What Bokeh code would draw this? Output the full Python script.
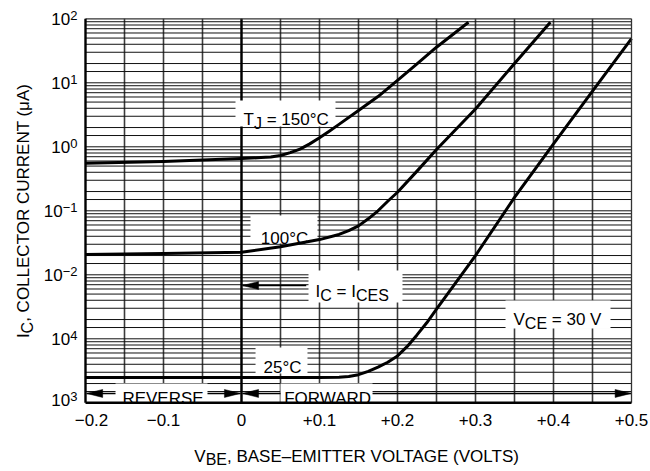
import math
from bokeh.plotting import figure
from bokeh.models import Range1d, Label, LabelSet, ColumnDataSource
from bokeh.core.properties import value
from bokeh.embed import file_html
from bokeh.resources import INLINE

# ---------------- data ----------------
vbe_150 = [-0.2, -0.1, 0.0, 0.025, 0.0375, 0.05, 0.0625, 0.075, 0.0875, 0.1, 0.1125, 0.125,
           0.15, 0.175, 0.2, 0.225, 0.25, 0.291]
ic_150 = [0.555, 0.59, 0.656, 0.68, 0.695, 0.73, 0.81, 0.92, 1.11, 1.38, 1.75, 2.24,
          3.69, 6.1, 10.9, 19.8, 36.0, 88.5]

vbe_100 = [-0.2, -0.1, 0.0, 0.05, 0.1, 0.125, 0.1375, 0.15, 0.1625, 0.175, 0.1875, 0.2,
           0.225, 0.25, 0.3, 0.35, 0.396]
ic_100 = [0.0207, 0.0215, 0.0225, 0.0275, 0.0355, 0.0427, 0.049, 0.0582, 0.075, 0.10, 0.141, 0.195,
          0.417, 0.91, 3.9, 20.0, 88.5]

vbe_25 = [-0.2, -0.1, 0.0, 0.1, 0.125, 0.1375, 0.15, 0.1625, 0.175, 0.1875, 0.2, 0.2125, 0.225,
          0.2375, 0.25, 0.275, 0.3, 0.35, 0.4, 0.45, 0.5]
ic_25 = [2.48e-4, 2.48e-4, 2.48e-4, 2.48e-4, 2.5e-4, 2.57e-4, 2.75e-4, 3.09e-4, 3.6e-4, 4.3e-4,
         5.4e-4, 7.6e-4, 1.15e-3, 1.78e-3, 2.9e-3, 7.6e-3, 0.02, 0.162, 1.11, 7.4, 49.0]

x_ticks = [-0.2, -0.1, 0.0, 0.1, 0.2, 0.3, 0.4, 0.5]
x_tick_labels = ["\u22120.2", "\u22120.1", "0", "+0.1", "+0.2", "+0.3", "+0.4", "+0.5"]
y_ticks = [1e2, 1e1, 1e0, 1e-1, 1e-2, 1e-3, 1e-4]
y_tick_bases = ["10", "10", "10", "10", "10", "10", "10"]
y_tick_exps = ["2", "1", "0", "\u22121", "\u22122", "4", "3"]

# ---------------- styling / geometry ----------------
FONT = "Liberation Sans"
FS = 17
SUB = 16
EXP = 13
X0, X1 = -0.2, 0.5
Y0, Y1 = 1e-4, 1e2
W, H = 650, 471
ML, MR, MT, MB = 85.0, 19.0, 18.3, 68.7      # pixel margins around the data box
FW, FH = W - ML - MR, H - MT - MB
px_x = (X1 - X0) / FW
px_ly = (math.log10(Y1) - math.log10(Y0)) / FH

# small per-label nudges (pixels), as in the reference artwork
x_tick_nudge = [6, 0, 0, 0, 0, 0, 0, 0]
y_tick_nudge = [0, 0, 0, 0, 0, 0, 3.4]

AW = {' ': 278, '(': 333, ')': 333, '+': 584, ',': 278, '-': 333, '.': 278, '=': 584,
      'A': 667, 'B': 667, 'C': 722, 'D': 722, 'E': 667, 'F': 611, 'G': 778, 'H': 722,
      'I': 278, 'J': 500, 'K': 667, 'L': 556, 'M': 833, 'N': 722, 'O': 778, 'P': 667,
      'R': 722, 'S': 667, 'T': 611, 'U': 722, 'V': 667, 'W': 944, '\u00b0': 400,
      '\u03bc': 576, '\u2212': 584, '\u2013': 556}


def tw(s, fs):
    return sum(AW.get(c, 556) for c in s) / 1000.0 * fs


p = figure(width=W, height=H, min_border=0,
           x_range=Range1d(X0 - ML * px_x, X1 + MR * px_x),
           y_range=Range1d(10 ** (math.log10(Y0) - MB * px_ly), 10 ** (math.log10(Y1) + MT * px_ly)),
           y_axis_type="log", output_backend="svg", toolbar_location=None)
p.title.visible = False
p.xaxis.visible = False
p.yaxis.visible = False
p.xgrid.visible = False
p.ygrid.visible = False
p.outline_line_color = None
p.background_fill_color = "white"
p.border_fill_color = "white"

# grid lines inside the data box
gx = [round(X0 + 0.05 * i, 3) for i in range(1, 14)]
p.segment(x0=gx, y0=[Y0] * len(gx), x1=gx, y1=[Y1] * len(gx), line_color="#3c3c3c", line_width=1.6)
gy = [m * 10.0 ** e for e in range(-4, 2) for m in (1, 1.5, 2, 3, 4, 5, 6, 7, 8, 9)][1:]
p.segment(x0=[X0] * len(gy), y0=gy, x1=[X1] * len(gy), y1=gy, line_color="#111111", line_width=1.0)

# zero-volt reference line
p.segment(x0=[0.0], y0=[Y0], x1=[0.0], y1=[Y1], line_color="black", line_width=2.3)

# white label boxes (left, right, bottom, top)
boxes = [
    (-0.0077, 0.1205, 2.07, 5.28),      # T_J = 150 C
    (0.0115, 0.0974, 0.0308, 0.0845),   # 100 C
    (0.0859, 0.2064, 0.00369, 0.01166), # I_C = I_CES
    (0.018, 0.0846, 2.87e-4, 7.3e-4),   # 25 C
    (-0.1615, -0.0436, 1e-4, 2.0e-4),   # REVERSE
    (0.05, 0.168, 1e-4, 2.0e-4),        # FORWARD
    (0.3385, 0.4731, 0.00145, 0.00396), # V_CE
]
p.quad(left=[b[0] for b in boxes], right=[b[1] for b in boxes],
       bottom=[b[2] for b in boxes], top=[b[3] for b in boxes],
       fill_color="white", line_color=None)

# curves
for xs, ys in ((vbe_150, ic_150), (vbe_100, ic_100), (vbe_25, ic_25)):
    p.line(xs, ys, line_color="black", line_width=3.0, line_join="round")

# arrows: (x_from, x_to, y)
arrows = [
    (0.083, 0.0014, 0.0068),
    (-0.1615, -0.1985, 1.4e-4),
    (-0.0436, -0.0014, 1.4e-4),
    (0.05, 0.0014, 1.4e-4),
    (0.168, 0.4995, 1.4e-4),
]
HL, HW = 16, 4
hx, hy = [], []
for xf, xt, y in arrows:
    d = 1 if xt > xf else -1
    xb = xt - d * HL * px_x
    hx.append([xt, xb, xb])
    hy.append([y, y * 10 ** (HW * px_ly), y * 10 ** (-HW * px_ly)])
p.segment(x0=[a[0] for a in arrows], y0=[a[2] for a in arrows],
          x1=[a[1] for a in arrows], y1=[a[2] for a in arrows], line_color="black", line_width=1.5)
p.patches(hx, hy, fill_color="black", line_color="black", line_width=0.5)

# frame: top/right thin, left/bottom heavy
p.segment(x0=[X0, X1], y0=[Y1, Y0], x1=[X1, X1], y1=[Y1, Y1], line_color="#333333", line_width=1.3)
p.segment(x0=[X0, X0], y0=[Y0, Y0], x1=[X0, X1], y1=[Y1, Y0], line_color="black", line_width=2.4)


def rich(parts, x, y, xoff=0.0, yoff=0.0, align="left", angle=0.0):
    total = sum(tw(t, s) for t, s, d in parts)
    cum = -total / 2.0 if align == "center" else 0.0
    for t, s, d in parts:
        txt = t.lstrip(" ")
        lead = tw(t[:len(t) - len(txt)], s)
        if angle == 0.0:
            lab = Label(x=x, y=y, x_offset=xoff + cum + lead, y_offset=yoff - d, text=txt)
        else:
            lab = Label(x=x, y=y, x_offset=xoff + d, y_offset=yoff + cum + lead, text=txt, angle=angle)
        lab.text_font = FONT
        lab.text_font_size = "%dpx" % s
        lab.text_color = "black"
        lab.text_align = "left"
        lab.text_baseline = "alphabetic"
        p.add_layout(lab)
        cum += tw(t, s)


# in-plot annotations (anchors at text baselines)
rich([("T", FS, 0), ("J", SUB, 4), (" = 150\u00b0C", FS, 0)], 0.0026, 2.71)
rich([("100\u00b0C", FS, 0)], 0.0551, 0.0368, align="center")
rich([("I", FS, 0), ("C", SUB, 4), (" = I", FS, 0), ("CES", SUB, 4)], 0.0949, 0.00546)
rich([("25\u00b0C", FS, 0)], 0.0526, 3.59e-4, align="center")
rich([("REVERSE", FS, 0)], -0.1006, 1.16e-4, align="center")
rich([("FORWARD", FS, 0)], 0.111, 1.16e-4, align="center")
rich([("V", FS, 0), ("CE", SUB, 4), (" = 30 V", FS, 0)], 0.3487, 0.00197)

# axis titles
rich([("V", FS, 0), ("BE", SUB, 3), (", BASE\u2013EMITTER VOLTAGE (VOLTS)", FS, 0)],
     (X0 + X1) / 2, Y0, yoff=-54.0, align="center")
rich([("I", FS, 0), ("C", SUB, 4), (", COLLECTOR CURRENT (\u03bcA)", FS, 0)],
     X0, math.sqrt(Y0 * Y1), xoff=-62.4, align="center", angle=math.pi / 2)

# tick labels
xsrc = ColumnDataSource(dict(x=x_ticks, y=[Y0] * len(x_ticks), t=x_tick_labels, dx=x_tick_nudge))
p.add_layout(LabelSet(x="x", y="y", text="t", source=xsrc, x_offset="dx", y_offset=-23.5,
                      text_align="center", text_baseline="alphabetic",
                      text_font=value(FONT), text_font_size="%dpx" % FS, text_color="black"))

exp_off = [-8.0 - tw(e, EXP) for e in y_tick_exps]
base_dy = [-6.1 + n for n in y_tick_nudge]
exp_dy = [-1.3 + n for n in y_tick_nudge]
ysrc = ColumnDataSource(dict(x=[X0] * len(y_ticks), y=y_ticks, b=y_tick_bases, e=y_tick_exps,
                             off=exp_off, bdy=base_dy, edy=exp_dy))
p.add_layout(LabelSet(x="x", y="y", text="b", source=ysrc, x_offset="off", y_offset="bdy",
                      text_align="right", text_baseline="alphabetic",
                      text_font=value(FONT), text_font_size="%dpx" % FS, text_color="black"))
p.add_layout(LabelSet(x="x", y="y", text="e", source=ysrc, x_offset="off", y_offset="edy",
                      text_align="left", text_baseline="alphabetic",
                      text_font=value(FONT), text_font_size="%dpx" % EXP, text_color="black"))

open("out.html", "w").write(file_html(p, INLINE))
